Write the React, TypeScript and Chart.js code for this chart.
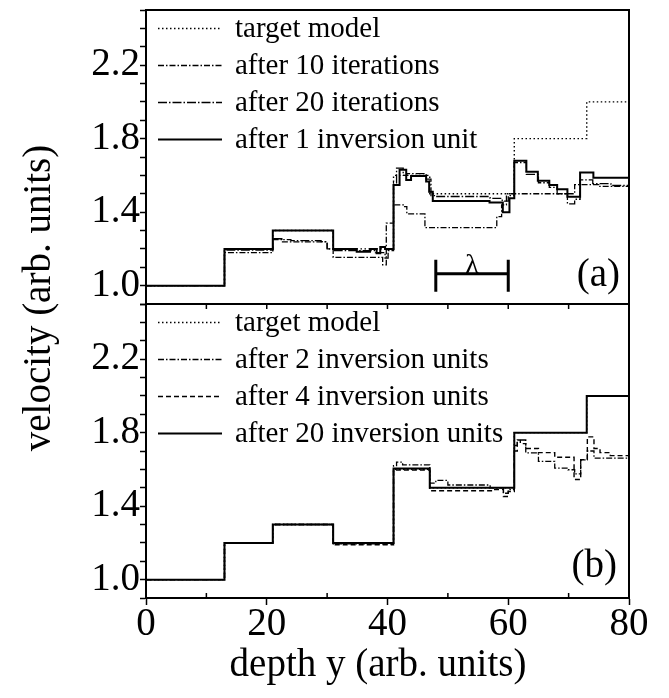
import React, { useEffect, useRef } from 'react';
import { Chart, registerables } from 'chart.js';

Chart.register(...registerables);

const FONT = '"Liberation Serif", "Times New Roman", Times, serif';

// ---- axis tick labels ----
const xTickLabels = [0, 20, 40, 60, 80];
const yTickLabels = ['1.0', '1.4', '1.8', '2.2'];

// ---- panel (a) series: step edges (depth) and levels (velocity) ----
const targetEdges = [0, 13, 21, 31, 41, 47, 61, 73, 80];
const targetValues = [1.0, 1.2, 1.3, 1.2, 1.6, 1.5, 1.8, 2.0];

const after1UnitEdges = [0, 13, 21, 31, 34.9, 37.1, 38.2, 38.8, 39.6, 41, 42, 43.1, 43.9, 46.4, 46.9, 47.5, 56.9, 59.1, 60.2, 61, 63, 64.9, 66.8, 68.1, 69.8, 71.9, 74.1, 80];
const after1UnitValues = [1.0, 1.2, 1.3, 1.2, 1.185, 1.2, 1.176, 1.21, 1.2, 1.548, 1.63, 1.575, 1.597, 1.566, 1.511, 1.46, 1.453, 1.40, 1.475, 1.68, 1.62, 1.571, 1.548, 1.524, 1.484, 1.615, 1.587];

const after20ItEdges = [0, 13, 21, 22.5, 24, 29, 30, 31, 38, 39.6, 40.1, 41, 41.5, 42.6, 43.2, 46.4, 47.2, 48, 57, 59, 60, 61, 63, 65, 66.8, 68.1, 69.8, 71, 71.9, 74, 77, 80];
const after20ItValues = [1.0, 1.194, 1.255, 1.25, 1.245, 1.24, 1.2, 1.19, 1.18, 1.15, 1.19, 1.56, 1.64, 1.60, 1.61, 1.58, 1.49, 1.485, 1.475, 1.46, 1.49, 1.67, 1.605, 1.56, 1.535, 1.50, 1.445, 1.47, 1.575, 1.555, 1.545];

const after10ItEdges = [0, 13, 21, 22.5, 30, 31, 39.2, 39.8, 41, 42.6, 43.2, 46.2, 58.1, 58.9, 59.7, 71, 75, 80];
const after10ItValues = [1.0, 1.18, 1.25, 1.238, 1.2, 1.154, 1.113, 1.34, 1.44, 1.43, 1.39, 1.316, 1.376, 1.44, 1.5, 1.55, 1.54];

// ---- panel (b) series ----
const after20UnitsEdges = [0, 13, 21, 31, 41, 47, 61, 73, 80];
const after20UnitsValues = [1.0, 1.2, 1.3, 1.2, 1.605, 1.5, 1.8, 2.0];

const after2UnitsEdges = [0, 13, 21, 31, 41, 41.5, 42.5, 47, 48, 50, 57, 59.2, 60, 61, 61.5, 62.9, 65, 67.7, 69.9, 71, 72, 73.1, 74.2, 80];
const after2UnitsValues = [1.0, 1.2, 1.3, 1.195, 1.62, 1.64, 1.624, 1.525, 1.54, 1.515, 1.50, 1.47, 1.49, 1.73, 1.76, 1.69, 1.643, 1.607, 1.598, 1.575, 1.652, 1.70, 1.661];

const after4UnitsEdges = [0, 13, 21, 31, 41, 47, 57.5, 59.2, 60, 61, 61.5, 62, 62.9, 65, 67.7, 70.9, 72, 73.1, 74.2, 75.2, 76.9, 80];
const after4UnitsValues = [1.0, 1.2, 1.3, 1.19, 1.597, 1.484, 1.49, 1.452, 1.48, 1.70, 1.76, 1.74, 1.714, 1.691, 1.666, 1.545, 1.652, 1.777, 1.714, 1.691, 1.675];

// ---- legends (order as shown) ----
const legendA = ['target model', 'after 10 iterations', 'after 20 iterations', 'after 1 inversion unit'];
const legendB = ['target model', 'after 2 inversion units', 'after 4 inversion units', 'after 20 inversion units'];
const legendRowLevels = [2.4, 2.2, 2.0, 1.8];

// ---- lambda scale bar (depth range) ----
const lambdaStart = 48;
const lambdaEnd = 60;
const lambdaLevel = 1.065;

function toSteps(edges: number[], values: number[]) {
  return edges.map((x, i) => ({ x, y: values[Math.min(i, values.length - 1)] }));
}

const DOT = [1.5, 2.5];
const DASHDOT = [6, 2, 1.5, 2];
const DASHDOT2 = [9, 2, 1.5, 2];
const DASHED = [5, 3];

function ds(label: string, data: any[], axis: string, dash: number[], width: number) {
  return {
    label,
    data,
    yAxisID: axis,
    borderColor: '#000',
    backgroundColor: '#000',
    borderWidth: width,
    borderDash: dash,
    borderCapStyle: 'butt',
    stepped: true,
    pointRadius: 0,
    fill: false,
  };
}

const decorPlugin = {
  id: 'decor',
  afterDraw(chart: any) {
    const { ctx, chartArea } = chart;
    const xs = chart.scales.x;
    const ya = chart.scales.ya;
    const yb = chart.scales.yb;
    const left = chartArea.left;
    const right = chartArea.right;
    ctx.save();
    ctx.strokeStyle = '#000';
    ctx.fillStyle = '#000';
    ctx.setLineDash([]);
    // frame
    ctx.lineWidth = 2;
    ctx.strokeRect(left, ya.top, right - left, yb.bottom - ya.top);
    ctx.beginPath();
    ctx.moveTo(left, ya.bottom);
    ctx.lineTo(right, ya.bottom);
    ctx.stroke();
    // ticks on the panel boundary and minor x ticks
    ctx.lineWidth = 1.5;
    ctx.beginPath();
    for (let v = 10; v < 80; v += 10) {
      const px = xs.getPixelForValue(v);
      ctx.moveTo(px, ya.bottom);
      ctx.lineTo(px, ya.bottom + 5);
      if (v % 20 !== 0) {
        ctx.moveTo(px, yb.bottom);
        ctx.lineTo(px, yb.bottom - 5);
      }
    }
    ctx.stroke();

    // legends
    const drawLegend = (names: string[], scale: any) => {
      names.forEach((name, i) => {
        const d = chart.data.datasets.find((s: any) => s.label === name && s.yAxisID === scale.id);
        const y = Math.round(scale.getPixelForValue(legendRowLevels[i])) + 0.5;
        ctx.save();
        ctx.lineWidth = d.borderWidth;
        ctx.setLineDash(d.borderDash || []);
        ctx.beginPath();
        ctx.moveTo(left + 12, y);
        ctx.lineTo(left + 76, y);
        ctx.stroke();
        ctx.restore();
        ctx.font = `29px ${FONT}`;
        ctx.textAlign = 'left';
        ctx.textBaseline = 'alphabetic';
        ctx.fillText(name, left + 89, y + 8.5);
      });
    };
    drawLegend(legendA, ya);
    drawLegend(legendB, yb);

    // panel labels
    ctx.font = `39px ${FONT}`;
    ctx.textAlign = 'right';
    ctx.textBaseline = 'alphabetic';
    ctx.fillText('(a)', right - 9, ya.bottom - 18);
    ctx.fillText('(b)', right - 12, yb.bottom - 21);

    // lambda bar
    const x1 = xs.getPixelForValue(lambdaStart);
    const x2 = xs.getPixelForValue(lambdaEnd);
    const yl = ya.getPixelForValue(lambdaLevel);
    ctx.lineWidth = 3;
    ctx.beginPath();
    ctx.moveTo(x1, yl);
    ctx.lineTo(x2, yl);
    ctx.moveTo(x1, yl - 14);
    ctx.lineTo(x1, yl + 18);
    ctx.moveTo(x2, yl - 14);
    ctx.lineTo(x2, yl + 18);
    ctx.stroke();
    ctx.font = `28px ${FONT}`;
    ctx.textAlign = 'center';
    ctx.fillText('λ', (x1 + x2) / 2, yl - 1);

    // y axis title
    ctx.save();
    ctx.translate(40, (ya.top + yb.bottom) / 2 - 6);
    ctx.rotate(-Math.PI / 2);
    ctx.font = `39px ${FONT}`;
    ctx.textAlign = 'center';
    ctx.textBaseline = 'middle';
    ctx.fillText('velocity (arb. units)', 0, 0);
    ctx.restore();

    // x axis title
    ctx.font = `39px ${FONT}`;
    ctx.textAlign = 'center';
    ctx.textBaseline = 'middle';
    ctx.fillText('depth y (arb. units)', 378, 666);

    ctx.restore();
  },
};

function yScale(weight: number) {
  return {
    type: 'linear',
    position: 'left',
    stack: 'panels',
    stackWeight: 1,
    weight,
    min: 0.9,
    max: 2.5,
    ticks: {
      stepSize: 0.1,
      autoSkip: false,
      color: '#000',
      padding: 0,
      font: { family: FONT, size: 39 },
      callback: (v: any) => {
        const s = Number(v).toFixed(1);
        return yTickLabels.includes(s) ? s : '';
      },
    },
    grid: { drawOnChartArea: false, drawTicks: true, tickLength: 6, tickColor: '#000', tickWidth: 1.5 },
    border: { display: true, color: '#000', width: 2 },
    afterFit: (s: any) => {
      s.width = 146;
      s.paddingTop = 0;
      s.paddingBottom = 0;
    },
  };
}

export default function App() {
  const ref = useRef<HTMLCanvasElement | null>(null);
  useEffect(() => {
    if (!ref.current) return;
    const datasets = [
      ds('after 1 inversion unit', toSteps(after1UnitEdges, after1UnitValues), 'ya', [], 2),
      ds('after 20 iterations', toSteps(after20ItEdges, after20ItValues), 'ya', DASHDOT2, 1.3),
      ds('after 10 iterations', toSteps(after10ItEdges, after10ItValues), 'ya', DASHDOT, 1.3),
      ds('target model', toSteps(targetEdges, targetValues), 'ya', DOT, 1.4),
      ds('after 20 inversion units', toSteps(after20UnitsEdges, after20UnitsValues), 'yb', [], 2),
      ds('after 4 inversion units', toSteps(after4UnitsEdges, after4UnitsValues), 'yb', DASHED, 1.4),
      ds('after 2 inversion units', toSteps(after2UnitsEdges, after2UnitsValues), 'yb', DASHDOT, 1.3),
      ds('target model', toSteps(targetEdges, targetValues), 'yb', DOT, 1.4),
    ];
    const chart = new Chart(ref.current, {
      type: 'line',
      data: { datasets } as any,
      options: {
        responsive: false,
        animation: false,
        events: [],
        layout: { padding: { top: 10, right: 40, left: 0, bottom: 0 } },
        plugins: { legend: { display: false }, tooltip: { enabled: false }, title: { display: false } },
        scales: {
          x: {
            type: 'linear',
            min: 0,
            max: 80,
            ticks: {
              stepSize: 20,
              color: '#000',
              padding: -4,
              maxRotation: 0,
              font: { family: FONT, size: 39 },
              callback: (v: any) => (xTickLabels.includes(Number(v)) ? String(v) : ''),
            },
            grid: { drawOnChartArea: false, tickLength: 7, tickColor: '#000', tickWidth: 1.5 },
            border: { display: true, color: '#000', width: 2 },
            title: { display: false },
            afterFit: (s: any) => {
              s.height = 100;
              s.paddingLeft = 0;
              s.paddingRight = 0;
            },
          },
          ya: yScale(1),
          yb: yScale(0),
        } as any,
      },
      plugins: [decorPlugin],
    } as any);
    return () => chart.destroy();
  }, []);
  return (
    <div style={{ position: 'absolute', left: 0, top: 0, width: 669, height: 698, background: '#fff' }}>
      <canvas ref={ref} width={669} height={698} />
    </div>
  );
}
